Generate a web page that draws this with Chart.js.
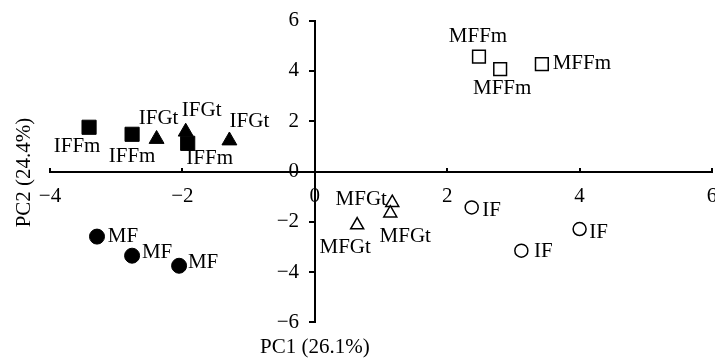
<!DOCTYPE html>
<html>
<head>
<meta charset="utf-8">
<script src="https://cdn.jsdelivr.net/npm/chart.js@4.4.1/dist/chart.umd.min.js"></script>
<style>
  html, body { margin: 0; padding: 0; background: #fff; overflow: hidden; }
  #wrap { width: 715px; height: 358px; overflow: hidden; }
  #pca { display: block; }
</style>
</head>
<body>
<!-- canvas is a little wider than the frame: the "6" label is cut at the right edge like in the original -->
<div id="wrap"><canvas id="pca" width="723" height="358"></canvas></div>
<script>
// PCA scores
const iffmX = [-3.41, -2.76, -1.92];
const iffmY = [1.76, 1.48, 1.12];
const ifgtX = [-2.39, -1.95, -1.29];
const ifgtY = [1.29, 1.58, 1.23];
const mfX = [-3.29, -2.76, -2.05];
const mfY = [-2.59, -3.35, -3.75];
const mfgtX = [1.17, 1.14, 0.64];
const mfgtY = [-1.24, -1.66, -2.13];
const ifX = [2.37, 4.0, 3.12];
const ifY = [-1.43, -2.29, -3.15];
const mffmX = [2.48, 2.80, 3.43];
const mffmY = [4.57, 4.07, 4.27];

const xTicks = [-4, -2, 0, 2, 4, 6];
const yTicks = [-6, -4, -2, 0, 2, 4, 6];
const xTitle = 'PC1 (26.1%)';
const yTitle = 'PC2 (24.4%)';

// where each point label sits, in px from the marker
const labelNudge = {
  IFFm: [[-12, 19], [0, 22], [22, 15]],
  IFGt: [[2, -21], [16, -21], [20, -19]],
  MF: [[26, 0], [25, -3], [24, -3]],
  MFGt: [[-31, -3], [15, 23], [-12, 22]],
  IF: [[20, 3], [19, 3], [22, 1]],
  MFFm: [[-1, -20], [2, 19], [40, -1]]
};

const FONT = '"Liberation Serif", "Times New Roman", serif';
const FS = 21;
const pts = (xs, ys) => xs.map((x, i) => ({ x, y: ys[i] }));
const minus = v => (v < 0 ? '\u2212' + Math.abs(v) : String(v));

function series(label, xs, ys, style, r, filled) {
  return {
    label, data: pts(xs, ys), pointStyle: style, pointRadius: r, pointHoverRadius: r,
    pointBackgroundColor: filled ? '#000' : '#fff', pointBorderColor: '#000',
    pointBorderWidth: filled ? 1 : 1.5, showLine: false
  };
}

const pointLabels = {
  id: 'pointLabels',
  afterDatasetsDraw(chart) {
    const ctx = chart.ctx;
    ctx.save();
    ctx.font = FS + 'px ' + FONT;
    ctx.fillStyle = '#000';
    ctx.textAlign = 'center';
    ctx.textBaseline = 'middle';
    chart.data.datasets.forEach((ds, di) => {
      const meta = chart.getDatasetMeta(di);
      meta.data.forEach((el, i) => {
        const n = labelNudge[ds.label][i];
        ctx.fillText(ds.label, el.x + n[0], el.y + n[1]);
      });
    });
    ctx.restore();
  }
};

const axisTitles = {
  id: 'axisTitles',
  afterDraw(chart) {
    const { ctx, chartArea, scales } = chart;
    ctx.save();
    ctx.font = FS + 'px ' + FONT;
    ctx.fillStyle = '#000';
    ctx.textAlign = 'center';
    ctx.textBaseline = 'middle';
    ctx.fillText(xTitle, scales.x.getPixelForValue(0), chartArea.bottom + 25);
    ctx.translate(chartArea.left - 26, scales.y.getPixelForValue(0) + 1);
    ctx.rotate(-Math.PI / 2);
    ctx.fillText(yTitle, 0, 0);
    ctx.restore();
  }
};

new Chart(document.getElementById('pca'), {
  type: 'scatter',
  data: {
    datasets: [
      series('IFFm', iffmX, iffmY, 'rect', 10, true),
      series('IFGt', ifgtX, ifgtY, 'triangle', 8.6, true),
      series('MF', mfX, mfY, 'circle', 7.5, true),
      series('MFGt', mfgtX, mfgtY, 'triangle', 7.5, false),
      series('IF', ifX, ifY, 'circle', 6.5, false),
      series('MFFm', mffmX, mffmY, 'rect', 9, false)
    ]
  },
  options: {
    responsive: false,
    animation: false,
    layout: { padding: { left: 50, right: 0, top: 20.7, bottom: 35.7 } },
    plugins: { legend: { display: false }, tooltip: { enabled: false } },
    scales: {
      x: {
        type: 'linear', position: { y: 0 }, min: -4, max: 6,
        afterBuildTicks: s => { s.ticks = xTicks.map(v => ({ value: v })); },
        grid: { drawOnChartArea: false, drawTicks: true, tickLength: -5, color: '#000', lineWidth: 2 },
        border: { display: true, color: '#000', width: 2 },
        // empty first line pushes the number below the axis without side padding
        ticks: { autoSkip: false, maxRotation: 0, padding: 0, color: '#000',
          font: { family: FONT, size: FS, lineHeight: 0.95 }, callback: v => ['', minus(v)] }
      },
      y: {
        type: 'linear', position: { x: 0 }, min: -6, max: 6,
        afterBuildTicks: s => { s.ticks = yTicks.map(v => ({ value: v })); },
        grid: { drawOnChartArea: false, drawTicks: true, tickLength: 5, color: '#000', lineWidth: 2 },
        border: { display: true, color: '#000', width: 2 },
        ticks: { autoSkip: false, color: '#000',
          font: { family: FONT, size: FS }, callback: v => minus(v) + '   ' }
      }
    }
  },
  plugins: [pointLabels, axisTitles]
});
</script>
</body>
</html>
